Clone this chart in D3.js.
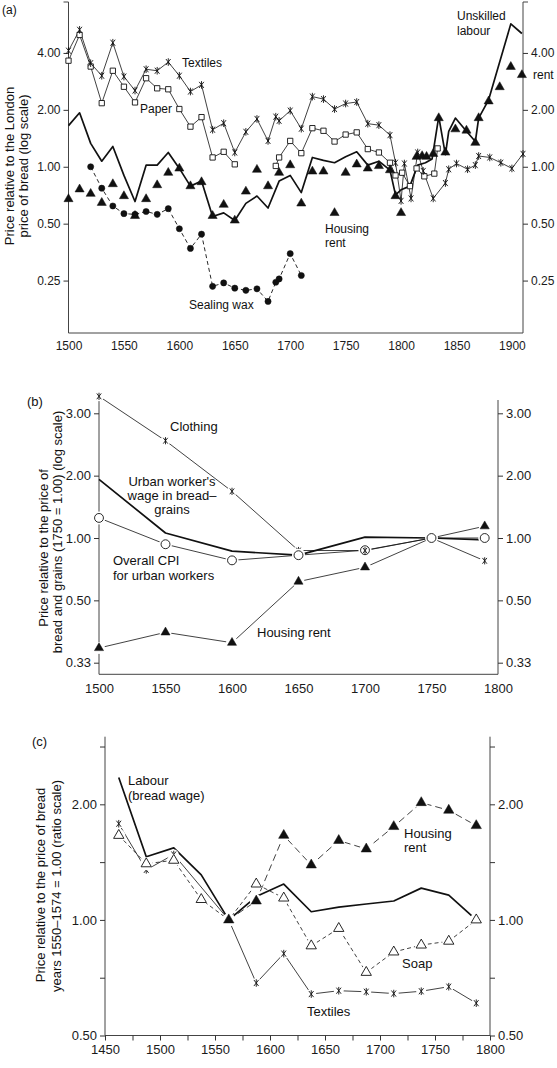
<!DOCTYPE html>
<html>
<head>
<meta charset="utf-8">
<style>
  body { margin: 0; background: #fff; }
  svg { display: block; font-family: 'Liberation Sans', Arial, Helvetica, sans-serif; }
  .axis line { stroke: #333; }
  .axis text { fill: #1a1a1a; }
</style>
</head>
<body>
<svg width="557" height="1068"></svg>

<script src="https://d3js.org/d3.v7.min.js"></script>
<script>
  // ---------- panel (a): price relative to London bread, log scale ----------
  const textilesA = [[1500,4.11],[1510,5.3],[1520,3.53],[1530,3.03],[1540,4.53],[1550,3.0],[1560,2.53],[1570,3.28],[1580,3.22],[1590,3.58],[1600,3.03],[1610,2.5],[1620,2.71],[1630,1.57],[1640,1.7],[1650,1.19],[1660,1.53],[1670,1.79],[1680,1.37],[1687,1.84],[1690,1.75],[1700,1.98],[1710,1.59],[1720,2.35],[1730,2.28],[1740,2.02],[1750,2.16],[1760,2.2],[1770,1.69],[1780,1.66],[1790,1.47],[1795,1.05],[1800,0.66],[1803,1.04],[1809,0.68],[1815,1.19],[1820,0.95],[1829,0.68],[1840,0.82],[1843,0.97],[1850,1.04],[1860,0.97],[1867,1.02],[1870,1.14],[1880,1.12],[1890,1.05],[1900,0.98],[1910,1.17]];
  const paperA = [[1500,3.64],[1510,4.98],[1520,3.39],[1530,2.17],[1540,3.22],[1550,2.65],[1560,2.19],[1570,2.94],[1580,2.6],[1590,2.57],[1600,2.02],[1610,1.63],[1620,1.83],[1630,1.12],[1640,1.2],[1650,1.03],[1665,null],[1687,1.01],[1690,1.12],[1700,1.37],[1710,1.18],[1720,1.6],[1730,1.55],[1740,1.36],[1750,1.48],[1760,1.52],[1770,1.24],[1780,1.19],[1790,1.05],[1795,0.9],[1801,0.93],[1808,0.79],[1814,0.98],[1821,0.89],[1830,0.92],[1833,1.25]];
  const labourA = [[1500,1.65],[1510,1.93],[1520,1.33],[1530,1.07],[1540,1.28],[1550,0.9],[1560,0.655],[1570,1.02],[1580,1.02],[1590,1.19],[1600,0.98],[1610,0.79],[1620,0.84],[1630,0.546],[1640,0.57],[1650,0.52],[1660,0.64],[1670,0.7],[1680,0.605],[1690,0.84],[1700,0.9],[1710,0.73],[1720,1.12],[1730,1.08],[1740,1.05],[1750,1.13],[1760,1.2],[1770,1.02],[1780,1.07],[1790,0.96],[1795,0.71],[1800,0.755],[1808,0.79],[1815,1.02],[1822,1.05],[1828,1.1],[1834,1.84],[1840,1.16],[1843,1.54],[1849,1.81],[1859,1.54],[1867,1.36],[1870,1.81],[1879,2.26],[1899,5.7],[1909,5.07]];
  const rentA = [[1500,0.675],[1510,0.76],[1520,0.72],[1530,0.645],[1540,0.81],[1550,0.7],[1560,0.55],[1570,0.675],[1580,0.8],[1590,0.93],[1600,0.98],[1610,0.79],[1620,0.83],[1630,0.55],[1640,0.63],[1650,0.52],[1660,0.74],[1670,0.965],[1680,0.79],[1690,0.93],[1700,1.02],[1710,0.64],[1720,0.945],[1730,0.945],[1740,0.57],[1750,0.93],[1760,1.03],[1770,0.98],[1780,1.01],[1790,0.96],[1795,0.7],[1800,0.57],[1814,1.13],[1819,1.14],[1823,1.13],[1829,1.17],[1834,1.81],[1840,1.19],[1849,1.58],[1859,1.555],[1867,1.34],[1870,1.81],[1879,2.22],[1889,2.64],[1899,3.38],[1909,3.06]];
  const waxA = [[1520,1.0],[1530,0.77],[1540,0.62],[1550,0.565],[1560,0.56],[1570,0.58],[1580,0.56],[1590,0.6],[1600,0.47],[1610,0.37],[1620,0.44],[1630,0.233],[1640,0.243],[1650,0.228],[1660,0.222],[1670,0.226],[1680,0.194],[1687,0.245],[1690,0.255],[1700,0.347],[1710,0.266]];
  const ticksA = [0.25, 0.5, 1, 2, 4];
  const yearTicksA = [1500, 1550, 1600, 1650, 1700, 1750, 1800, 1850, 1900];

  // ---------- panel (b): relative to bread and grains, 1750 = 1.00 ----------
  const yearsB = [1500, 1550, 1600, 1650, 1700, 1750, 1790];
  const clothingB = [3.35, 2.51, 1.68, 0.87, 0.87, 1.0, 0.776];
  const wageB = [1.92, 1.057, 0.864, 0.826, 1.01, 1.0, 0.98];
  const cpiB = [1.25, 0.933, 0.78, 0.826, 0.873, 1.0, 1.0];
  const rentB = [0.364, 0.404, 0.377, 0.616, 0.722, 1.0, 1.14];
  const baseYearB = 1750;
  const ticksB = [0.33, 0.5, 1, 2, 3];
  const yearTicksB = [1500, 1550, 1600, 1650, 1700, 1750, 1800];

  // ---------- panel (c): relative to bread 1550-1574 = 1.00 ----------
  const yearsC = [1462.5, 1487.5, 1512.5, 1537.5, 1562.5, 1587.5, 1612.5, 1637.5, 1662.5, 1687.5, 1712.5, 1737.5, 1762.5, 1787.5];
  const labourC = [2.35, 1.46, 1.54, 1.31, 1.0, 1.15, 1.24, 1.05, 1.08, 1.1, 1.12, 1.21, 1.16, 1.0];
  const soapC = [1.66, 1.4, 1.43, 1.13, 1.0, 1.24, 1.14, 0.856, 0.95, 0.73, 0.825, 0.86, 0.88, 1.0];
  const textilesC = [1.78, 1.35, 1.48, null, 1.0, 0.685, 0.817, 0.641, 0.654, 0.65, 0.643, 0.652, 0.67, 0.607];
  const rentC = [null, null, null, null, 1.0, 1.12, 1.66, 1.39, 1.61, 1.53, 1.75, 2.02, 1.93, 1.76];
  const ticksC = [0.5, Math.SQRT1_2, 1, Math.SQRT2, 2, 2 * Math.SQRT2];
  const labelTicksC = [0.5, 1, 2];
  const yearTicksC = d3.range(1450, 1801, 25);

  const ink = "#111";
  const axisInk = "#444";
  const fmt = d3.format(".2f");
  const svg = d3.select("svg");

  function asterisk(cx, cy, r) {
    let a = r * 0.62, b = r * 0.8;
    return `M${cx},${cy - r}L${cx},${cy + r}` +
      `M${cx - a},${cy - b}L${cx + a},${cy + b}` +
      `M${cx - a},${cy + b}L${cx + a},${cy - b}`;
  }

  function series(g, pts, px, py, width, dash, connectGaps) {
    let data = connectGaps ? pts.filter(d => d[1] != null) : pts;
    let line = d3.line()
      .defined(d => d[1] != null)
      .x(d => px(d[0]))
      .y(d => py(d[1]));
    g.append("path")
      .datum(data)
      .attr("d", line)
      .attr("fill", "none")
      .attr("stroke", ink)
      .attr("stroke-width", width)
      .attr("stroke-linejoin", "round")
      .attr("stroke-dasharray", dash || null);
  }

  // kind: ast | square | tri | otri | dot | ocircle
  function marks(g, pts, px, py, kind, size, halo) {
    let data = pts.filter(d => d[1] != null);
    let m = g.append("g");
    if (halo) {
      m.selectAll("circle")
        .data(data)
        .join("circle")
        .attr("cx", d => px(d[0]))
        .attr("cy", d => py(d[1]))
        .attr("r", halo)
        .attr("fill", "#fff");
    }
    let shapes = m.append("g");
    if (kind === "ast") {
      shapes.selectAll("path")
        .data(data)
        .join("path")
        .attr("d", d => asterisk(px(d[0]), py(d[1]), size))
        .attr("fill", "none")
        .attr("stroke", ink)
        .attr("stroke-width", 0.9);
      return;
    }
    let type = { square: d3.symbolSquare, tri: d3.symbolTriangle, otri: d3.symbolTriangle, dot: d3.symbolCircle, ocircle: d3.symbolCircle }[kind];
    let open = kind === "square" || kind === "otri" || kind === "ocircle";
    shapes.selectAll("path")
      .data(data)
      .join("path")
      .attr("transform", d => `translate(${px(d[0])},${py(d[1])})`)
      .attr("d", d3.symbol().type(type).size(size))
      .attr("fill", open ? "#fff" : ink)
      .attr("stroke", ink)
      .attr("stroke-width", open ? 0.9 : 0.5);
  }

  function text(g, x, y, lines, size, lh, anchor) {
    let t = g.append("text")
      .attr("x", x)
      .attr("y", y)
      .attr("font-size", size)
      .attr("fill", ink)
      .attr("text-anchor", anchor || "start");
    lines.forEach((s, i) => {
      t.append("tspan").attr("x", x).attr("y", y + i * lh).text(s);
    });
  }

  function vtitle(g, x, y, s, size) {
    g.append("text")
      .attr("transform", `translate(${x},${y}) rotate(-90)`)
      .attr("text-anchor", "middle")
      .attr("font-size", size)
      .attr("fill", ink)
      .text(s);
  }

  function frame(g, x0, x1, yTop, yBot) {
    let f = g.append("g").attr("stroke", axisInk).attr("stroke-width", 1).attr("fill", "none");
    f.append("path").attr("d", `M${x0},${yTop}V${yBot}H${x1}V${yTop}`);
  }

  function yAxes(g, scale, x0, x1, values, labelled, size, tickFn) {
    let show = d => labelled.includes(d) ? fmt(tickFn ? tickFn(d) : d) : "";
    g.append("g").attr("class", "axis")
      .attr("transform", `translate(${x0},0)`)
      .call(d3.axisLeft(scale).tickValues(values).tickSize(5).tickPadding(3).tickFormat(show))
      .call(a => a.select(".domain").remove())
      .call(a => a.selectAll("text").attr("font-size", size).attr("font-family", null));
    g.append("g").attr("class", "axis")
      .attr("transform", `translate(${x1},0)`)
      .call(d3.axisRight(scale).tickValues(values).tickSize(5).tickPadding(3).tickFormat(show))
      .call(a => a.select(".domain").remove())
      .call(a => a.selectAll("text").attr("font-size", size).attr("font-family", null));
  }

  function xAxis(g, scale, y, values, labelFn, tick, pad, size) {
    g.append("g").attr("class", "axis")
      .attr("transform", `translate(0,${y})`)
      .call(d3.axisBottom(scale).tickValues(values).tickSize(tick).tickPadding(pad).tickFormat(labelFn))
      .call(a => a.select(".domain").remove())
      .call(a => a.selectAll("text").attr("font-size", size).attr("font-family", null));
  }

  // ================= panel (a) =================
  const gA = svg.append("g");
  const xA = d3.scaleLinear().domain([1500, 1910]).range([68.5, 523]);
  const yA = d3.scaleLog().base(2).domain([0.132, 7.44]).range([333, 2]);
  const pxA = v => xA(v), pyA = v => yA(v);

  frame(gA, 68.5, 523, 2, 333);
  gA.append("path").attr("d", "M63.5,2H68.5M523,2H528").attr("stroke", axisInk);
  yAxes(gA, yA, 68.5, 523, ticksA, ticksA, 12);
  xAxis(gA, xA, 333, yearTicksA, d => d, 0, 8, 12);

  series(gA, waxA, pxA, pyA, 0.9, "4,3");
  series(gA, paperA, pxA, pyA, 0.8);
  series(gA, textilesA, pxA, pyA, 0.8);
  series(gA, labourA, pxA, pyA, 1.7);
  marks(gA, waxA, pxA, pyA, "dot", 30);
  marks(gA, paperA, pxA, pyA, "square", 28);
  marks(gA, textilesA, pxA, pyA, "ast", 3.8);
  marks(gA, rentA, pxA, pyA, "tri", 36);

  text(gA, 2, 14, ["(a)"], 12, 14);
  text(gA, 182, 67, ["Textiles"], 12, 14);
  text(gA, 140, 113, ["Paper"], 12, 14);
  text(gA, 457, 20, ["Unskilled", "labour"], 12, 15);
  text(gA, 533, 79, ["rent"], 12, 14);
  text(gA, 325, 233, ["Housing", "rent"], 12, 14);
  text(gA, 189, 309, ["Sealing wax"], 12, 14);
  vtitle(gA, 13.5, 166, "Price relative to the London", 13);
  vtitle(gA, 27.5, 166, "price of bread (log scale)", 13);

  // ================= panel (b) =================
  const gB = svg.append("g");
  const xB = d3.scaleLinear().domain([1500, 1800]).range([99, 498]);
  const yB = d3.scaleLinear()
    .domain(ticksB.map(Math.log))
    .range(ticksB.map((t, i) => 662.7 - i * 62.35));
  const pxB = v => xB(v), pyB = v => yB(Math.log(v));

  frame(gB, 99, 498, 400, 674.3);
  yAxes(gB, yB, 99, 498, ticksB.map(Math.log), ticksB.map(Math.log), 13, Math.exp);
  xAxis(gB, xB, 674.3, yearTicksB, d => d, 0, 9, 13);

  const zipB = vals => d3.zip(yearsB, vals);
  const offBase = pts => pts.filter(d => d[0] !== baseYearB);
  series(gB, zipB(rentB), pxB, pyB, 0.8);
  series(gB, zipB(clothingB), pxB, pyB, 0.8);
  series(gB, zipB(cpiB), pxB, pyB, 0.8);
  series(gB, zipB(wageB), pxB, pyB, 1.7);
  marks(gB, offBase(zipB(rentB)), pxB, pyB, "tri", 36, 6);
  marks(gB, offBase(zipB(clothingB)), pxB, pyB, "ast", 3.6, 5);
  marks(gB, zipB(cpiB), pxB, pyB, "ocircle", 62, 6.5);
  // asterisk seen through the 1700 circle
  marks(gB, zipB(clothingB).filter(d => d[0] === 1700), pxB, pyB, "ast", 3.4);

  text(gB, 27, 406, ["(b)"], 13, 14);
  text(gB, 170, 430.5, ["Clothing"], 13, 14);
  text(gB, 172, 486, ["Urban worker's", "wage in bread\u2013", "grains"], 13, 14, "middle");
  text(gB, 113, 565, ["Overall CPI", "for urban workers"], 13, 14.5);
  text(gB, 257, 637, ["Housing rent"], 13, 14);
  vtitle(gB, 47.5, 548, "Price relative to the price of", 13);
  vtitle(gB, 61.5, 532, "bread and grains (1750 = 1.00) (log scale)", 13);

  // ================= panel (c) =================
  const gC = svg.append("g");
  const xC = d3.scaleLinear().domain([1450, 1800]).range([105, 490]);
  const yC = d3.scaleLog().base(2).domain([0.5, 3]).range([1035.5, 736.7]);
  const pxC = v => xC(v), pyC = v => yC(v);

  frame(gC, 105, 490, 736.7, 1035.5);
  yAxes(gC, yC, 105, 490, ticksC, labelTicksC, 13);
  xAxis(gC, xC, 1035.5, yearTicksC, d => d % 50 === 0 ? d : "", 5, 4, 13);

  const zipC = vals => d3.zip(yearsC, vals);
  series(gC, zipC(textilesC), pxC, pyC, 0.8, null, true);
  series(gC, zipC(soapC), pxC, pyC, 0.8, "4,3");
  series(gC, zipC(rentC), pxC, pyC, 0.8, "7,4");
  series(gC, zipC(labourC), pxC, pyC, 1.7);
  marks(gC, zipC(textilesC), pxC, pyC, "ast", 3.8, 5);
  marks(gC, zipC(soapC), pxC, pyC, "otri", 46, 6.5);
  marks(gC, zipC(rentC), pxC, pyC, "tri", 46, 6.5);

  text(gC, 32, 746, ["(c)"], 13, 14);
  text(gC, 128, 784.5, ["Labour", "(bread wage)"], 13, 15);
  text(gC, 404, 837.5, ["Housing", "rent"], 13, 14.5);
  text(gC, 402, 967.5, ["Soap"], 13, 14);
  text(gC, 307, 1016, ["Textiles"], 13, 14);
  vtitle(gC, 44.5, 885, "Price relative to the price of bread", 13);
  vtitle(gC, 60.5, 886, "years 1550\u20131574 = 1.00 (ratio scale)", 13);
</script>
</body>
</html>
